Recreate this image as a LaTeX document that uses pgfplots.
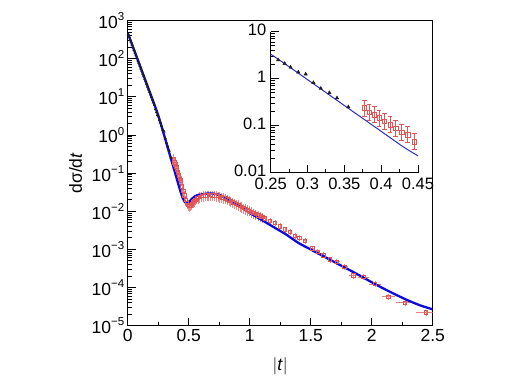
\documentclass[border=0pt]{standalone}
\usepackage{fontspec}
\setmainfont{Liberation Sans}
\usepackage{pgfplots}
\usepackage{pgfplotstable}
\pgfplotsset{compat=1.18}

\definecolor{fitblue}{RGB}{10,10,225}
\definecolor{insetblue}{RGB}{45,45,200}
\definecolor{datred}{RGB}{225,85,85}
\definecolor{datblack}{RGB}{30,30,30}

\newcommand\lblfont{\fontsize{17.5bp}{20bp}\selectfont}
\newcommand\insfont{\fontsize{16.5bp}{19bp}\selectfont}
\newcommand\ex[1]{10\raisebox{0.45em}{\fontsize{11.5bp}{12bp}\selectfont #1}}

% model curve
\pgfplotstableread{
t v
0.00 478.6
0.05 177.8
0.10 66.07
0.15 24.55
0.20 9.12
0.25 3.31
0.30 0.955
0.35 0.269
0.40 0.0759
0.43 0.0355
0.45 0.0229
0.465 0.0182
0.48 0.0162
0.495 0.0166
0.51 0.0186
0.53 0.0219
0.56 0.0257
0.60 0.0275
0.65 0.0292
0.70 0.0292
0.75 0.0269
0.80 0.0229
0.85 0.0186
0.90 0.0148
0.95 0.0115
1.00 0.00912
1.10 0.00589
1.20 0.00380
1.30 0.00245
1.40 0.00148
1.50 0.00100
1.60 6.76e-4
1.70 4.57e-4
1.80 3.09e-4
1.90 2.09e-4
2.00 1.38e-4
2.10 9.33e-5
2.20 6.46e-5
2.30 4.57e-5
2.40 3.39e-5
2.50 2.69e-5
}\fitdata

% small-|t| data (triangles)
\pgfplotstableread{
t v
0.004 441.6
0.012 376.7
0.020 321.4
0.028 275.4
0.036 234.4
0.044 199.5
0.052 171.8
0.060 146.2
0.068 124.5
0.076 107.2
0.084 90.2
0.092 77.6
0.100 66.1
0.108 56.2
0.116 48.4
0.124 40.7
0.132 35.1
0.140 29.9
0.148 25.7
0.156 21.9
0.164 18.6
0.172 15.8
0.180 13.6
0.188 11.6
0.196 9.89
0.204 8.41
0.212 7.16
0.220 6.17
0.228 4.79
0.236 3.98
0.244 3.39
0.249 3.10
0.260 2.50
0.269 2.10
0.277 1.75
0.2875 1.38
0.2975 1.25
0.308 0.82
0.318 0.62
0.3296 0.50
0.340 0.39
0.3554 0.25
}\lowt

% large-|t| data, dense part
\pgfplotstableread{
t v
0.377 0.238
0.3835 0.193
0.3907 0.171
0.3971 0.146
0.4043 0.123
0.412 0.105
0.4197 0.0891
0.4279 0.0719
0.436 0.0646
0.445 0.0457
0.455 0.0347
0.465 0.0263
0.475 0.0200
0.485 0.0166
0.495 0.0148
0.505 0.0141
0.515 0.0145
0.525 0.0158
0.535 0.0174
0.545 0.0191
0.555 0.0204
0.565 0.0219
0.575 0.0229
0.59 0.0240
0.605 0.0251
0.62 0.0257
0.635 0.0263
0.65 0.0266
0.665 0.0269
0.68 0.0269
0.695 0.0266
0.71 0.0263
0.725 0.0257
0.74 0.0251
0.755 0.0243
0.77 0.0234
0.785 0.0226
0.80 0.0219
0.815 0.0209
0.83 0.0195
0.845 0.0186
0.86 0.0174
0.875 0.0166
0.89 0.0155
0.905 0.0148
0.92 0.0138
0.935 0.0132
0.95 0.0123
0.965 0.0117
0.98 0.0110
0.995 0.0105
1.01 0.00977
1.03 0.00912
1.05 0.00851
1.07 0.00794
1.09 0.00741
1.105 0.00708
}\hight

% large-|t| data, sparse tail (with |t| bin half-width)
\pgfplotstableread{
t v ex
1.125 6.50e-3 0
1.166 5.53e-3 0
1.207 5.01e-3 0
1.248 4.07e-3 0
1.289 3.35e-3 0
1.330 2.90e-3 0
1.371 2.24e-3 0
1.407 2.01e-3 0
1.453 1.68e-3 0.01
1.513 1.06e-3 0.015
1.557 8.65e-4 0.015
1.604 7.08e-4 0.02
1.658 5.46e-4 0.02
1.713 4.73e-4 0.025
1.776 3.49e-4 0.03
1.850 2.07e-4 0.04
1.932 1.88e-4 0.045
2.027 1.23e-4 0.05
2.136 5.70e-5 0.055
2.273 3.98e-5 0.07
2.445 2.22e-5 0.08
}\tail

% inset points with asymmetric relative errors
\pgfplotstableread{
t v ep em
0.377 0.238 0.48 0.32
0.3835 0.193 0.48 0.32
0.3907 0.171 0.48 0.32
0.3971 0.146 0.48 0.32
0.4043 0.123 0.48 0.32
0.412 0.105 0.48 0.32
0.4197 0.0891 0.48 0.32
0.4279 0.0719 0.48 0.32
0.436 0.0646 0.48 0.32
0.445 0.0457 0.48 0.32
}\insetred

\begin{document}
\begin{tikzpicture}
\useasboundingbox (0,0) rectangle (509bp,382bp);

\pgfplotsset{
  every axis/.append style={
    scale only axis,
    tick align=inside,
    axis line style={line width=1.3bp},
    major tick length=8bp,
    minor tick length=4bp,
    every tick/.style={black, line width=1bp},
  },
}

\begin{axis}[
  at={(127.7bp,56.3bp)}, anchor=south west,
  width=305bp, height=305bp,
  ymode=log,
  xmin=0, xmax=2.5, ymin=1e-5, ymax=1e3,
  xtick={0,0.5,1,1.5,2,2.5},
  xticklabels={0,0.5,1,1.5,2,2.5},
  minor x tick num=1,
  ytick={1e-5,1e-4,1e-3,1e-2,1e-1,1,10,100,1000},
  yticklabels={\ex{−5},\ex{−4},\ex{−3},\ex{−2},\ex{−1},\ex{0},\ex{1},\ex{2},\ex{3}},
  minor ytick={2e-5,3e-5,4e-5,5e-5,6e-5,7e-5,8e-5,9e-5,
    2e-4,3e-4,4e-4,5e-4,6e-4,7e-4,8e-4,9e-4,
    2e-3,3e-3,4e-3,5e-3,6e-3,7e-3,8e-3,9e-3,
    0.02,0.03,0.04,0.05,0.06,0.07,0.08,0.09,
    0.2,0.3,0.4,0.5,0.6,0.7,0.8,0.9,
    2,3,4,5,6,7,8,9,20,30,40,50,60,70,80,90,
    200,300,400,500,600,700,800,900},
  xtick pos=bottom, ytick pos=left,
  xticklabel style={font=\lblfont},
  yticklabel style={font=\lblfont},
  xlabel={$|$\textit{t}$|$},
  ylabel={dσ/d\textit{t}},
  xlabel style={font=\lblfont, at={(axis description cs:0.5,0)}, anchor=center, yshift=-40bp},
  ylabel style={font=\lblfont, at={([xshift=-52bp]axis description cs:0,0.5)}, anchor=center},
]
\addplot[only marks, mark=square, mark size=1.7bp, datred, line width=0.6bp,
  error bars/.cd, y dir=both, y fixed relative=0.3, error mark=none,
  error bar style={datred!70, line width=0.7bp}]
  table[x=t, y=v] {\hight};
\addplot[only marks, mark=square, mark size=1.7bp, datred, line width=0.7bp,
  error bars/.cd, y dir=both, y fixed relative=0.18, x dir=both, x explicit,
  error mark=none, error bar style={datred!75, line width=0.8bp}]
  table[x=t, y=v, x error=ex] {\tail};
\addplot[fitblue, line width=2.3bp, smooth, tension=0.4] table[x=t, y=v] {\fitdata};
\addplot[only marks, mark=triangle*, mark size=1.4bp, datblack] table[x=t, y=v] {\lowt};
\end{axis}

\begin{axis}[
  at={(270.7bp,209.3bp)}, anchor=south west,
  width=147.3bp, height=141bp,
  ymode=log,
  axis lines*=left,
  xmin=0.25, xmax=0.45, ymin=0.01, ymax=10,
  xtick={0.25,0.3,0.35,0.4,0.45},
  xticklabels={0.25,0.3,0.35,0.4,0.45},
  minor x tick num=1,
  ytick={0.01,0.1,1,10},
  yticklabels={0.01,0.1,1,10},
  minor ytick={0.02,0.03,0.04,0.05,0.06,0.07,0.08,0.09,
    0.2,0.3,0.4,0.5,0.6,0.7,0.8,0.9,2,3,4,5,6,7,8,9},
  xticklabel style={font=\insfont, yshift=-1.5bp},
  yticklabel style={font=\insfont, xshift=-1bp, yshift=1.5bp},
]
\addplot[only marks, mark=triangle*, mark size=2bp, datblack] table[x=t, y=v] {\lowt};
\addplot[only marks, mark=square, mark size=2.2bp, datred, line width=0.6bp,
  error bars/.cd, y dir=both, y explicit relative, error mark=-,
  error mark options={datred, line width=0.6bp, mark size=2.4bp, rotate=90},
  error bar style={datred, line width=0.6bp}]
  table[x=t, y=v, y error plus=ep, y error minus=em] {\insetred};
\addplot[insetblue, line width=1bp, smooth, tension=0.4] table[x=t, y=v] {\fitdata};
\end{axis}
\end{tikzpicture}
\end{document}
